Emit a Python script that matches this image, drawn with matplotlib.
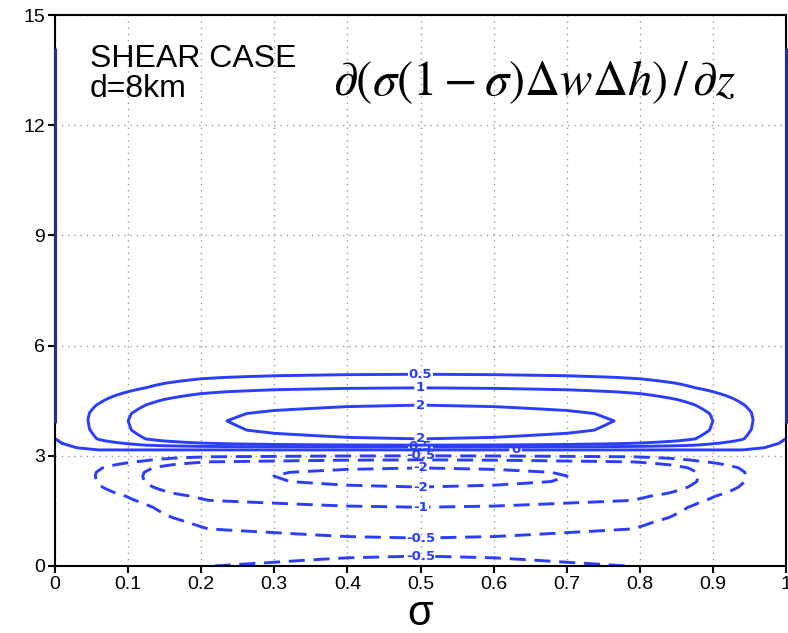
import numpy as np
import matplotlib
matplotlib.use("Agg")
import matplotlib.pyplot as plt

# ---------------- data ----------------
# vertical profile of the field along sigma = 0.5
z_prof = [0.0, 0.27, 0.5, 0.76, 1.2, 1.6, 1.9, 2.15, 2.3, 2.45, 2.55, 2.67, 2.89, 3.0, 3.16,
          3.24, 3.29, 3.46, 3.7, 3.95, 4.15, 4.38, 4.85, 5.22, 6.0, 7.0, 8.5, 10.0, 12.0, 15.0]
g_prof = [-0.62, -0.5, -0.45, -0.5, -0.72, -1.0, -1.4, -2.0, -2.25, -2.3, -2.25, -2.0, -1.0, -0.5, 0.0,
          0.5, 1.0, 2.0, 2.35, 2.45, 2.35, 2.0, 1.0, 0.5, 0.2, 0.08, 0.03, 0.015, 0.006, 0.003]

# horizontal shape (half, mirrored about sigma = 0.5) above / below the zero line
sig_pos = [0.0, 0.02, 0.045, 0.07, 0.1, 0.15, 0.2, 0.235, 0.3, 0.4, 0.5]
shp_pos = [0.004, 0.1, 0.204, 0.3, 0.408, 0.6, 0.75, 0.816, 0.9, 0.97, 1.0]
sig_neg = [0.0, 0.03, 0.055, 0.08, 0.12, 0.16, 0.21, 0.3, 0.4, 0.5]
shp_neg = [0.004, 0.12, 0.217, 0.3, 0.435, 0.62, 0.8, 0.87, 0.96, 1.0]

# upward lift of the profile close to the side edges
sig_lift = [0.0, 0.01, 0.03, 0.06, 0.5]
z_lift = [0.32, 0.18, 0.06, 0.0, 0.0]

# zero line lying along both side edges (height range, km)
edge_zero_z = [3.9, 14.1]

levels = [-2, -1, -0.5, 0, 0.5, 1, 2]
level_text = ["-2", "-1", "-0.5", "0", "0.5", "1", "2"]
xticks = [0, 0.1, 0.2, 0.3, 0.4, 0.5, 0.6, 0.7, 0.8, 0.9, 1.0]
xtick_labels = ["0", "0.1", "0.2", "0.3", "0.4", "0.5", "0.6", "0.7", "0.8", "0.9", "1"]
yticks = [0, 3, 6, 9, 12, 15]
zero_label_sigma = 0.63

# ---------------- build field ----------------
sig = np.linspace(0, 1, 401)
z = np.linspace(0, 15, 1501)
d = np.minimum(sig, 1 - sig)
sp = np.interp(d, sig_pos, shp_pos)
sn = np.interp(d, sig_neg, shp_neg)
lift = np.interp(d, sig_lift, z_lift)
G = np.interp(z[:, None] - lift[None, :], z_prof, g_prof)
F = np.where(G >= 0, G * sp[None, :], G * sn[None, :])
g = np.interp(z, z_prof, g_prof)

BLUE = "#2b3dff"
fig = plt.figure(figsize=(7.88, 6.33), dpi=100)
ax = fig.add_axes([55 / 788, 1 - 566 / 633, 731 / 788, 551 / 633])

ax.grid(True, color="#9a9a9a", linestyle=(0, (1, 3.5)), linewidth=1.0)
ax.set_axisbelow(True)

cs = ax.contour(sig, z, F, levels=levels, colors=BLUE, linewidths=2.1)
cs.set_linestyles([(0, (5.5, 3.0)) if lv < 0 else "solid" for lv in cs.levels])

ax.vlines([0, 1], edge_zero_z[0], edge_zero_z[1], colors="#2a2a9a",
          linewidth=2.2, zorder=3, clip_on=False)

# label positions: crossings of the profile at sigma = 0.5
crossings = []
zero_z = None
for lv in levels:
    for i in range(len(z) - 1):
        a, b = g[i] - lv, g[i + 1] - lv
        if a == 0 or a * b < 0:
            zc = z[i] + (z[i + 1] - z[i]) * (lv - g[i]) / (g[i + 1] - g[i])
            if lv == 0:
                zero_z = zc
            else:
                crossings.append((zc, lv))
crossings.sort(reverse=True)
pos = []
last = None
for zc, lv in crossings:
    if last is None or abs(last - zc) >= 0.2:
        pos.append((0.5, zc))
        last = zc
pos.append((zero_label_sigma, zero_z))

fmt = dict(zip(levels, level_text))
labels = ax.clabel(cs, levels=levels, fmt=fmt, manual=pos, inline=True,
                   inline_spacing=2, fontsize=9.5)
for t in labels:
    t.set_fontweight("bold")
    t.set_color(BLUE)

ax.set_xlim(0, 1)
ax.set_ylim(0, 15)
ax.set_xticks(xticks)
ax.set_xticklabels(xtick_labels)
ax.set_yticks(yticks)
for lab in ax.get_xticklabels() + ax.get_yticklabels():
    lab.set_family(["Liberation Sans", "DejaVu Sans"])
    lab.set_fontsize(14)
ax.tick_params(direction="out", length=5, width=1.5, color="black", pad=2)
for s in ax.spines.values():
    s.set_linewidth(1.5)

ax.set_xlabel("σ", fontsize=30, family=["Liberation Sans", "DejaVu Sans"], labelpad=1)

ax.text(0.048, 0.9056, "SHEAR CASE", transform=ax.transAxes, fontsize=23,
        family=["Liberation Sans", "DejaVu Sans"], va="baseline", ha="left")
ax.text(0.048, 0.851, "d=8km", transform=ax.transAxes, fontsize=23,
        family=["Liberation Sans", "DejaVu Sans"], va="baseline", ha="left")
plt.rcParams["mathtext.fontset"] = "stix"
ax.text(0.38, 0.855, r"$\partial(\sigma(1-\sigma)\Delta w\Delta h)\,/\,\partial z$",
        transform=ax.transAxes, fontsize=35, va="baseline", ha="left")

fig.savefig("out.png", dpi=100)
